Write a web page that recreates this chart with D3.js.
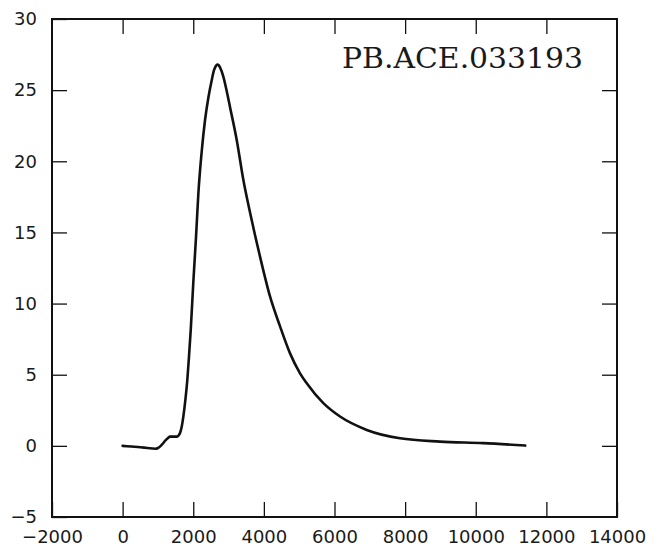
<!DOCTYPE html>
<html>
<head>
<meta charset="utf-8">
<script src="https://cdn.jsdelivr.net/npm/d3@7"></script>
<style>
  html, body { margin: 0; padding: 0; background: #fff; }
  svg { display: block; }
  .tick text { font-family: "DejaVu Sans", sans-serif; font-size: 18px; fill: #1a1a1a; }
</style>
</head>
<body>
<svg id="chart" width="654" height="552"></svg>
<script>
// Signal trace (time vs. response)
const timeVals = [0, 250, 500, 700, 918, 1003, 1080, 1153, 1220, 1286, 1342, 1450, 1532, 1590, 1626, 1670, 1719,
  1780, 1832, 1880, 1929, 2002, 2079, 2144, 2240, 2334, 2430, 2523, 2588, 2640, 2682, 2720, 2758, 2852, 2950,
  3042, 3231, 3418, 3608, 3750, 3891, 4174, 4458, 4741, 5024, 5214, 5684, 6157, 6913, 7856, 8989, 10207, 11400];
const signalVals = [0.0, -0.05, -0.1, -0.15, -0.2, -0.15, 0.0, 0.2, 0.4, 0.55, 0.65, 0.65, 0.65, 0.75, 0.9, 1.3, 2.05,
  3.3, 4.64, 6.3, 8.15, 11.5, 14.7, 17.7, 20.7, 22.9, 24.5, 25.7, 26.4, 26.7, 26.8, 26.75, 26.6, 25.95, 24.9,
  23.8, 21.5, 18.7, 16.4, 14.8, 13.3, 10.5, 8.4, 6.5, 5.1, 4.4, 3.0, 2.06, 1.12, 0.53, 0.3, 0.19, 0.02];

const xTicks = [-2000, 0, 2000, 4000, 6000, 8000, 10000, 12000, 14000];
const yTicks = [-5, 0, 5, 10, 15, 20, 25, 30];
const runLabel = "PB.ACE.033193";

const svg = d3.select("#chart");
const plotL = 52, plotR = 617, plotT = 19, plotB = 517;

const x = d3.scaleLinear().domain([-2000, 14000]).range([plotL, plotR]);
const y = d3.scaleLinear().domain([-5, 30]).range([plotB, plotT]);

const tickLen = 15;
const fmt = d3.format("d");

// bottom axis with labels, ticks pointing inward
const gx = svg.append("g").attr("transform", `translate(0,${plotB})`)
  .call(d3.axisBottom(x).tickValues(xTicks).tickFormat(fmt).tickSizeInner(-tickLen).tickSizeOuter(0).tickPadding(13));
// top axis, ticks only
const gxt = svg.append("g").attr("transform", `translate(0,${plotT})`)
  .call(d3.axisTop(x).tickValues(xTicks.slice(1, -1)).tickSizeInner(-tickLen).tickSizeOuter(0).tickFormat(""));
// left axis with labels
const gy = svg.append("g").attr("transform", `translate(${plotL},0)`)
  .call(d3.axisLeft(y).tickValues(yTicks).tickFormat(fmt).tickSizeInner(-tickLen).tickSizeOuter(0).tickPadding(15));
// right axis, ticks only
const gyr = svg.append("g").attr("transform", `translate(${plotR},0)`)
  .call(d3.axisRight(y).tickValues(yTicks.slice(1, -1)).tickSizeInner(-tickLen).tickSizeOuter(0).tickFormat(""));

[gx, gxt, gy, gyr].forEach(g => {
  g.select(".domain").remove();
  g.selectAll(".tick line").attr("stroke", "#111").attr("stroke-width", 1.3);
});

// plot frame
svg.append("rect")
  .attr("x", plotL).attr("y", plotT)
  .attr("width", plotR - plotL).attr("height", plotB - plotT)
  .attr("fill", "none").attr("stroke", "#111").attr("stroke-width", 2);

// trace
const pts = timeVals.map((t, i) => [t, signalVals[i]]);
const line = d3.line().x(d => x(d[0])).y(d => y(d[1])).curve(d3.curveMonotoneX);
svg.append("path")
  .datum(pts)
  .attr("d", line)
  .attr("fill", "none")
  .attr("stroke", "#111")
  .attr("stroke-width", 2.6)
  .attr("stroke-linejoin", "round")
  .attr("stroke-linecap", "round");

// run identifier
svg.append("text")
  .attr("x", 342).attr("y", 68)
  .attr("textLength", 241).attr("lengthAdjust", "spacingAndGlyphs")
  .style("font-family", "'DejaVu Serif', serif")
  .style("font-size", "27px")
  .style("fill", "#1a1a1a")
  .text(runLabel);
</script>
</body>
</html>
